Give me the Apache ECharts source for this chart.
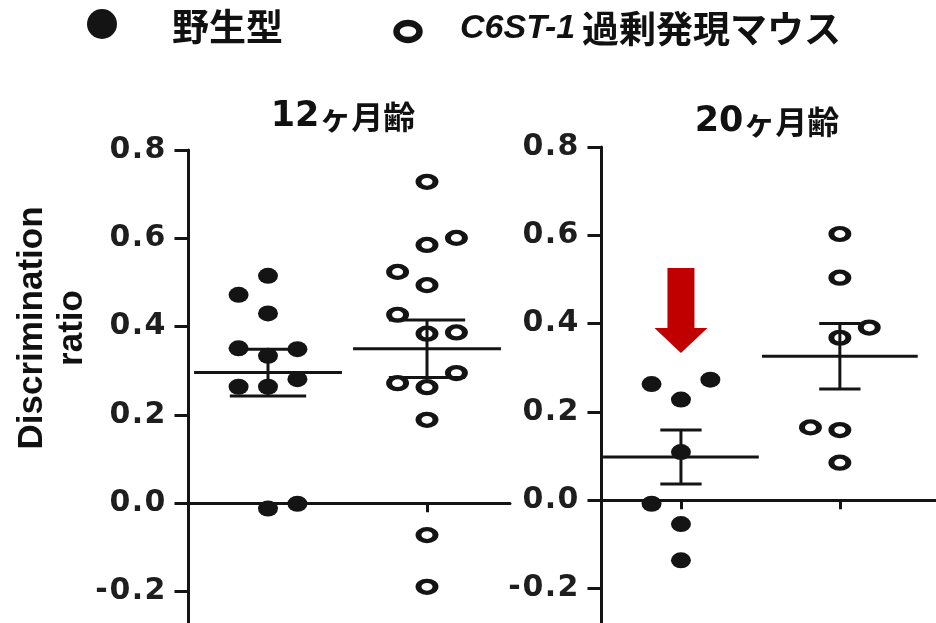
<!DOCTYPE html>
<html>
<head>
<meta charset="utf-8">
<script src="https://cdn.jsdelivr.net/npm/echarts@6/dist/echarts.min.js"></script>
<style>
  html, body { margin: 0; padding: 0; background: #fff; }
  #chart { width: 936px; height: 623px; }
</style>
</head>
<body>
<div id="chart"></div>
<script>
// groups sit at x = 1 (野生型) and x = 3 (C6ST-1), points as [column, value]
// column -1 / 0 / 1 = left / centre / right of the group
var groupX = [1, 3];
var wt12 = [[0, 0.515], [-1, 0.472], [0, 0.430], [-1, 0.351], [1, 0.349], [0, 0.334],
  [1, 0.281], [-1, 0.264], [0, 0.264], [0, -0.012], [1, -0.001]];
var tg12 = [[0, 0.728], [1, 0.601], [0, 0.585], [-1, 0.524], [0, 0.494], [-1, 0.427],
  [0, 0.384], [1, 0.387], [1, 0.295], [-1, 0.272], [0, 0.263], [0, 0.189],
  [0, -0.072], [0, -0.189]];
var wt20 = [[-1, 0.263], [1, 0.273], [0, 0.228], [0, 0.109], [-1, -0.008], [0, -0.054], [0, -0.136]];
var tg20 = [[0, 0.603], [0, 0.504], [1, 0.391], [0, 0.368], [-1, 0.165], [0, 0.159], [0, 0.085]];
// mean and SEM
var mean12 = [0.296, 0.350], sem12 = [0.053, 0.065];
var mean20 = [0.098, 0.326], sem20 = [0.061, 0.074];
var yTicks = [-0.2, 0.0, 0.2, 0.4, 0.6, 0.8];
var arrowAt = [1, 0.43];

var ink = "#141414";
var jitter = 0.37;
var numFont = "DejaVu Sans";
var cjkFont = "Noto Sans CJK JP";

function pts(list, gx) {
  return list.map(function(p) { return [gx + p[0] * jitter, p[1]]; });
}
function bars(means, sems) {
  return groupX.map(function(x, i) { return [x, means[i], sems[i]]; });
}

function tickLabel(v) {
  var s = v.toFixed(1);
  return s.split("").map(function(c) {
    if (c === ".") return "{p|.}";
    if (c === "-") return "{m|-}";
    return "{d|" + c + "}";
  }).join("");
}

var numStyle = { fontSize: 30, fontWeight: "bold", fontFamily: numFont, color: "#1e1e1e" };
function yAxisFor(gridIndex, min) {
  return {
    type: "value",
    gridIndex: gridIndex,
    min: min,
    max: 0.8,
    axisLine: { show: true, lineStyle: { color: ink, width: 3 } },
    axisTick: { show: true, length: 14, customValues: yTicks, lineStyle: { color: ink, width: 3 } },
    axisLabel: {
      margin: 19,
      customValues: yTicks,
      formatter: tickLabel,
      rich: {
        d: Object.assign({ width: 22, align: "center" }, numStyle),
        p: Object.assign({ width: 13, align: "center" }, numStyle),
        m: Object.assign({ width: 15, align: "center" }, numStyle)
      }
    },
    splitLine: { show: false }
  };
}

function xAxisFor(gridIndex, max) {
  return {
    type: "value",
    gridIndex: gridIndex,
    min: -0.044,
    max: max,
    axisLine: { show: true, onZero: true, lineStyle: { color: ink, width: 3 } },
    axisTick: { show: true, inside: false, length: 9, customValues: groupX, lineStyle: { color: ink, width: 3 } },
    axisLabel: { show: false },
    splitLine: { show: false }
  };
}

function errorBars(idx, data, meanHalf, capHalf) {
  return {
    type: "custom",
    xAxisIndex: idx,
    yAxisIndex: idx,
    z: 5,
    data: data,
    renderItem: function(params, api) {
      var x = api.value(0), m = api.value(1), s = api.value(2);
      var c = api.coord([x, m]);
      var hi = api.coord([x, m + s]);
      var lo = api.coord([x, m - s]);
      var mw = api.size([meanHalf, 0])[0];
      var cw = api.size([capHalf, 0])[0];
      var st = { stroke: ink, lineWidth: 3 };
      return {
        type: "group",
        children: [
          { type: "line", shape: { x1: c[0] - mw, y1: c[1], x2: c[0] + mw, y2: c[1] }, style: st },
          { type: "line", shape: { x1: c[0], y1: hi[1], x2: c[0], y2: lo[1] }, style: st },
          { type: "line", shape: { x1: c[0] - cw, y1: hi[1], x2: c[0] + cw, y2: hi[1] }, style: st },
          { type: "line", shape: { x1: c[0] - cw, y1: lo[1], x2: c[0] + cw, y2: lo[1] }, style: st }
        ]
      };
    }
  };
}

function filled(idx, data) {
  return {
    type: "scatter", xAxisIndex: idx, yAxisIndex: idx, z: 3,
    symbol: "circle", symbolSize: [20, 16],
    itemStyle: { color: ink, opacity: 1 },
    data: data
  };
}
function hollow(idx, data) {
  return {
    type: "scatter", xAxisIndex: idx, yAxisIndex: idx, z: 3,
    symbol: "circle", symbolSize: [17, 12],
    itemStyle: { color: "#fff", borderColor: ink, borderWidth: 5, opacity: 1 },
    data: data
  };
}

function label(x, y, text, font, align) {
  return {
    type: "text", x: x, y: y,
    style: { text: text, font: font, fill: "#111", align: align, verticalAlign: "middle", textAlign: align, textVerticalAlign: "middle" }
  };
}
function title(x, y, num) {
  return {
    type: "text", x: x, y: y,
    style: {
      text: "{n|" + num + "}{k|ヶ月齢}",
      align: "center", verticalAlign: "middle", textAlign: "center", textVerticalAlign: "middle",
      rich: {
        n: { fontFamily: numFont, fontWeight: "bold", fontSize: 35, fill: "#111", color: "#111" },
        k: { fontFamily: cjkFont, fontWeight: "bold", fontSize: 32, fill: "#111", color: "#111" }
      }
    }
  };
}

var chart = echarts.init(document.getElementById("chart"), null, { renderer: "canvas" });
chart.setOption({
  backgroundColor: "#fff",
  animation: false,
  grid: [
    { left: 185, width: 325, top: 150, bottom: 0 },
    { left: 598, right: 0, top: 147, bottom: 0 }
  ],
  xAxis: [xAxisFor(0, 4.044), xAxisFor(1, 4.21)],
  yAxis: [yAxisFor(0, -0.271), yAxisFor(1, -0.278)],
  graphic: [
    { type: "circle", shape: { cx: 102, cy: 24, r: 15 }, style: { fill: ink } },
    label(172, 27, "野生型", "bold 37px '" + cjkFont + "'", "left"),
    { type: "ellipse", shape: { cx: 408, cy: 31.5, rx: 11.5, ry: 8.5 }, style: { fill: "#fff", stroke: ink, lineWidth: 6.5 } },
    label(460, 29, "C6ST-1", "italic bold 34px 'Liberation Sans'", "left"),
    label(582, 29, "過剰発現マウス", "bold 37px '" + cjkFont + "'", "left"),
    title(343, 117, "12"),
    title(767, 122, "20"),
    { type: "text", x: 52, y: 328, rotation: Math.PI / 2, style: { text: "Discrimination\nratio", font: "bold 35px 'Liberation Sans'", lineHeight: 40, fill: "#111", align: "center", verticalAlign: "middle", textAlign: "center", textVerticalAlign: "middle" } }
  ],
  series: [
    filled(0, pts(wt12, groupX[0])),
    hollow(0, pts(tg12, groupX[1])),
    errorBars(0, bars(mean12, sem12), 0.93, 0.48),
    filled(1, pts(wt20, groupX[0])),
    hollow(1, pts(tg20, groupX[1])),
    errorBars(1, bars(mean20, sem20), 0.98, 0.26),
    {
      type: "scatter", xAxisIndex: 1, yAxisIndex: 1, z: 6,
      symbol: "path://M13,0 L40,0 L40,60 L53,60 L26.5,85 L0,60 L13,60 Z",
      symbolSize: [53, 85], symbolKeepAspect: false,
      itemStyle: { color: "#c00000", opacity: 1 },
      data: [arrowAt]
    }
  ]
});
</script>
</body>
</html>
